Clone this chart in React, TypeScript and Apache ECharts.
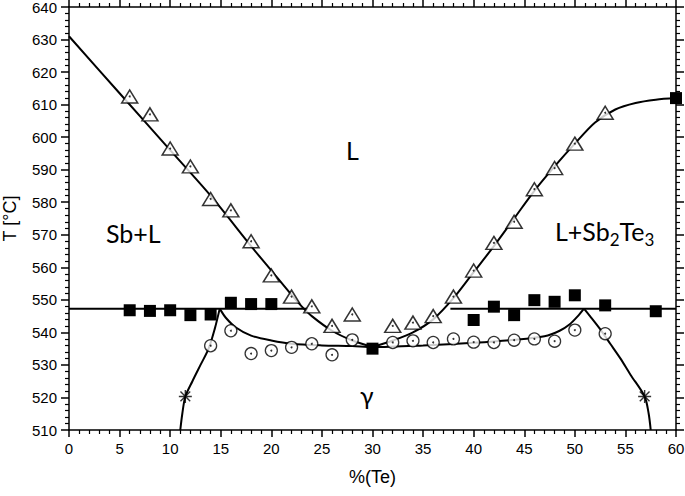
import React, { useEffect, useRef } from "react";
import * as echarts from "echarts";

// Measured points
const triX = [6, 8, 10, 12, 14, 16, 18, 20, 22, 24, 26, 28, 32, 34, 36, 38, 40, 42, 44, 46, 48, 50, 53];
const triY = [612.5, 607, 596.5, 591, 581, 577.5, 568, 557.5, 551, 548, 542, 545.5, 542, 543, 545, 551, 559, 567.5, 574, 584, 590.5, 598, 607.5];

const sqX = [6, 8, 10, 12, 14, 16, 18, 20, 30, 40, 42, 44, 46, 48, 50, 53, 58, 60];
const sqY = [546.8, 546.6, 546.8, 545.3, 545.5, 549.1, 548.7, 548.7, 535, 543.8, 547.9, 545.3, 549.9, 549.4, 551.4, 548.3, 546.5, 612];

const circX = [14, 16, 18, 20, 22, 24, 26, 28, 32, 34, 36, 38, 40, 42, 44, 46, 48, 50, 53];
const circY = [535.9, 540.5, 533.5, 534.4, 535.4, 536.5, 533.1, 537.7, 536.9, 537.4, 536.9, 538, 537, 536.9, 537.6, 538, 537.3, 540.7, 539.6];

const starX = [11.5, 56.9];
const starY = [520.3, 520.3];

// Boundary curves
const liqLeftX = [0, 5, 10, 14, 18, 20, 22, 23, 24, 26, 28, 30];
const liqLeftY = [631, 613.5, 596, 582, 566.5, 559, 551.5, 548, 545, 540.5, 537.5, 535.5];

const liqRightX = [30, 32, 34, 36, 38, 40, 42, 44, 46, 48, 50, 52, 54, 56, 58, 60];
const liqRightY = [535.5, 537.5, 540, 544, 550.5, 558.5, 566.5, 575, 583.5, 591, 598, 604.5, 608.5, 610.5, 611.5, 612];

const eutLeftX = [0, 23.6];
const eutLeftY = [547.3, 547.3];
const eutRightX = [37.7, 60];
const eutRightY = [547.3, 547.3];

const solvLeftX = [11.0, 11.2, 11.5, 12.2, 13, 13.8, 14.4, 14.9];
const solvLeftY = [510, 515, 520.3, 525, 530, 535, 541, 547.3];

const gammaX = [14.9, 15.5, 16.5, 18, 20, 22, 25, 28, 30, 35, 40, 44, 47, 48.5, 49.5, 50.3, 50.9];
const gammaY = [547.3, 544.5, 541.5, 539, 537.5, 536.5, 536, 535.8, 535.5, 536, 536.8, 537.7, 538.8, 540.5, 542.5, 545, 547.3];

const solvRightX = [50.9, 51.5, 52.5, 53.5, 54.5, 55.5, 56.9, 57.3, 57.5];
const solvRightY = [547.3, 545, 541, 536.5, 532, 527, 520.3, 515, 510];

const xMin = 0, xMax = 60, xStep = 5;
const yMin = 510, yMax = 640, yStep = 10;

const zip = (xs: number[], ys: number[]) => xs.map((x, i) => [x, ys[i]]);

const lineSeries = (xs: number[], ys: number[], smooth: number | boolean) => ({
  type: "line",
  data: zip(xs, ys),
  showSymbol: false,
  symbol: "none",
  smooth,
  lineStyle: { color: "#000", width: 2 },
  z: 2,
  silent: true,
});

export default function App() {
  const ref = useRef<HTMLDivElement>(null);
  useEffect(() => {
    document.body.style.margin = "0";
    if (!ref.current) return;
    const chart = echarts.init(ref.current, null, { renderer: "svg" });
    const tickFont = { fontFamily: "Liberation Sans", fontSize: 15, color: "#000" };
    const baseAxisLine = { show: true, lineStyle: { color: "#000", width: 1.5 } };
    const mkX = (pos: string, labels: boolean) => ({
      type: "value",
      position: pos,
      min: xMin,
      max: xMax,
      interval: xStep,
      axisLine: { ...baseAxisLine, onZero: false },
      axisTick: { show: true, inside: false, length: 7, lineStyle: { color: "#000", width: 1.5 } },
      minorTick: { show: true, splitNumber: 5, length: 4, lineStyle: { color: "#000", width: 1.2 } },
      splitLine: { show: false },
      axisLabel: { show: labels, margin: 11, ...tickFont },
      name: labels ? "%(Te)" : "",
      nameLocation: "middle",
      nameGap: 38,
      nameTextStyle: { fontFamily: "Liberation Sans", fontSize: 18, color: "#000" },
    });
    const mkY = (pos: string, labels: boolean) => ({
      type: "value",
      position: pos,
      min: yMin,
      max: yMax,
      interval: yStep,
      axisLine: { ...baseAxisLine, onZero: false },
      axisTick: { show: true, inside: false, length: 8, lineStyle: { color: "#000", width: 1.5 } },
      minorTick: { show: true, splitNumber: 5, length: 4, lineStyle: { color: "#000", width: 1.2 } },
      splitLine: { show: false },
      axisLabel: { show: labels, margin: 12, ...tickFont },
      name: labels ? "T [°C]" : "",
      nameLocation: "middle",
      nameGap: 50,
      nameTextStyle: { fontFamily: "Liberation Sans", fontSize: 18, color: "#000" },
    });

    const txt = { fontFamily: "Lato", fill: "#000" };
    chart.setOption({
      animation: false,
      backgroundColor: "#fff",
      grid: { left: 69, right: 9, top: 7, bottom: 66, containLabel: false, outerBoundsMode: "none" },
      xAxis: [mkX("bottom", true), mkX("top", false)],
      yAxis: [mkY("left", true), mkY("right", false)],
      series: [
        lineSeries(liqLeftX, liqLeftY, 0.3),
        lineSeries(liqRightX, liqRightY, 0.3),
        lineSeries(eutLeftX, eutLeftY, false),
        lineSeries(eutRightX, eutRightY, false),
        lineSeries(solvLeftX, solvLeftY, 0.3),
        lineSeries(gammaX, gammaY, 0.3),
        lineSeries(solvRightX, solvRightY, 0.3),
        {
          type: "scatter",
          data: zip(triX, triY),
          symbol: "triangle",
          symbolSize: [16, 13],
          itemStyle: { color: "#fff", borderColor: "#000", borderWidth: 1.5 },
          z: 3,
        },
        {
          type: "scatter",
          data: zip(circX, circY),
          symbol: "circle",
          symbolSize: 12,
          itemStyle: { color: "#fff", borderColor: "#000", borderWidth: 1.3 },
          z: 3,
        },
        {
          type: "scatter",
          data: zip(triX, triY).concat(zip(circX, circY)),
          symbol: "circle",
          symbolSize: 2,
          itemStyle: { color: "#000" },
          z: 4,
        },
        {
          type: "scatter",
          data: zip(sqX, sqY),
          symbol: "rect",
          symbolSize: 12,
          itemStyle: { color: "#000", opacity: 1 },
          z: 4,
        },
        {
          type: "scatter",
          data: zip(starX, starY),
          symbol: "path://M-6,0L6,0M-4.5,-4.5L4.5,4.5M-4.5,4.5L4.5,-4.5M0,-6L0,6",
          symbolSize: 13,
          itemStyle: { color: "none", borderColor: "#000", borderWidth: 1.4 },
          z: 4,
        },
      ],
      graphic: [
        { type: "text", left: 346, top: 137, style: { ...txt, text: "L", fontSize: 25 } },
        { type: "text", left: 106, top: 220, style: { ...txt, text: "Sb+L", fontSize: 25 } },
        {
          type: "text",
          left: 555,
          top: 218,
          style: {
            ...txt,
            text: "{a|L+Sb}{s|2}{a|Te}{s|3}",
            rich: {
              a: { fontFamily: "Lato", fontSize: 25, lineHeight: 34, verticalAlign: "middle", fill: "#000" },
              s: { fontFamily: "Lato", fontSize: 17, lineHeight: 17, verticalAlign: "bottom", fill: "#000" },
            },
          },
        },
        { type: "text", left: 360, top: 382, style: { ...txt, text: "γ", fontSize: 25 } },
      ],
    });
    return () => chart.dispose();
  }, []);
  return <div ref={ref} style={{ width: 685, height: 496 }} />;
}
